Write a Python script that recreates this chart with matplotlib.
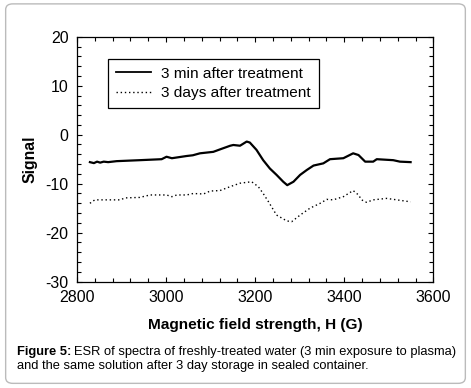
import matplotlib
matplotlib.use("Agg")
import matplotlib.pyplot as plt
from matplotlib.patches import FancyBboxPatch
from matplotlib.ticker import MultipleLocator

plt.rcParams["font.family"] = ["Liberation Sans", "DejaVu Sans"]
plt.rcParams["axes.unicode_minus"] = False

# ESR spectra
field_fresh = [2829, 2838, 2845, 2852, 2860, 2870, 2889, 2941, 2990, 3001, 3013, 3046,
               3060, 3076, 3106, 3121, 3144, 3151, 3166, 3181, 3188, 3203, 3218, 3233,
               3248, 3263, 3272, 3286, 3301, 3316, 3331, 3353, 3368, 3398, 3409, 3420,
               3432, 3447, 3465, 3473, 3510, 3525, 3549]
signal_fresh = [-5.6, -5.8, -5.5, -5.7, -5.5, -5.6, -5.4, -5.2, -5.0, -4.5, -4.8, -4.35,
                -4.2, -3.8, -3.5, -3.0, -2.25, -2.1, -2.25, -1.4, -1.6, -3.1, -5.2, -6.9,
                -8.2, -9.6, -10.3, -9.6, -8.2, -7.2, -6.3, -5.85, -5.0, -4.8, -4.3, -3.8,
                -4.15, -5.5, -5.5, -5.0, -5.2, -5.5, -5.6]

field_stored = [2829, 2840, 2874, 2897, 2908, 2941, 2964, 3001, 3013, 3024, 3046, 3061,
                3084, 3099, 3121, 3144, 3166, 3192, 3207, 3218, 3230, 3248, 3271, 3282,
                3301, 3323, 3346, 3361, 3375, 3398, 3420, 3432, 3439, 3450, 3465, 3495,
                3518, 3549]
signal_stored = [-14.0, -13.3, -13.3, -13.3, -12.9, -12.8, -12.3, -12.3, -12.65, -12.3, -12.3, -12.0,
                 -12.1, -11.5, -11.4, -10.6, -9.9, -9.6, -10.6, -12.0, -13.7, -16.4, -17.6, -17.75,
                 -16.4, -15.0, -14.0, -13.2, -13.3, -12.65, -11.4, -12.3, -13.3, -13.8, -13.3, -13.0,
                 -13.3, -13.7]

fig = plt.figure(figsize=(4.71, 3.88), dpi=100)

# rounded frame around the whole figure
frame = FancyBboxPatch((0.012, 0.012), 0.976, 0.978, boxstyle="round,pad=0,rounding_size=0.015",
                       transform=fig.transFigure, facecolor="none", edgecolor="#bbbbbb",
                       linewidth=1.0, zorder=-1)
fig.patches.append(frame)

ax = fig.add_axes([0.1635, 0.274, 0.7565, 0.6314])
ax.plot(field_fresh, signal_fresh, color="black", linewidth=1.6, label="3 min after treatment")
ax.plot(field_stored, signal_stored, color="black", linewidth=1.0, linestyle=(0, (1, 2)),
        label="3 days after treatment")

ax.set_xlim(2800, 3600)
ax.set_ylim(-30, 20)
ax.xaxis.set_major_locator(MultipleLocator(200))
ax.xaxis.set_minor_locator(MultipleLocator(40))
ax.yaxis.set_major_locator(MultipleLocator(10))
ax.yaxis.set_minor_locator(MultipleLocator(2))
ax.tick_params(which="both", direction="in", top=True, right=True, labelsize=11.5, width=0.8)
ax.tick_params(which="major", length=3.5, pad=6)
ax.tick_params(which="minor", length=2.8)
for s in ax.spines.values():
    s.set_linewidth(0.9)

ax.set_xlabel("Magnetic field strength, H (G)", fontsize=11.1, fontweight="bold", labelpad=9)
ax.set_ylabel("Signal", fontsize=11.3, fontweight="bold", labelpad=6)

leg = ax.legend(loc="upper left", bbox_to_anchor=(0.087, 0.909), borderaxespad=0,
                fontsize=11.1, fancybox=False, edgecolor="black", framealpha=1,
                handlelength=2.3, borderpad=0.5, labelspacing=0.35, handletextpad=0.65)
leg.get_frame().set_linewidth(0.9)
leg.get_lines()[0].set_linewidth(1.3)

# caption: bold "Figure 5:" followed by plain text
cap_size = 9.3
head = fig.text(0.036, 0.092, "Figure 5:", fontsize=cap_size, fontweight="bold", va="center")
renderer = fig.canvas.get_renderer()
bb = head.get_window_extent(renderer).transformed(fig.transFigure.inverted())
fig.text(bb.x1 + 0.006, 0.092, "ESR of spectra of freshly-treated water (3 min exposure to plasma)",
         fontsize=cap_size, va="center")
fig.text(0.036, 0.056, "and the same solution after 3 day storage in sealed container.",
         fontsize=cap_size, va="center")

fig.savefig("out.png", dpi=100)
